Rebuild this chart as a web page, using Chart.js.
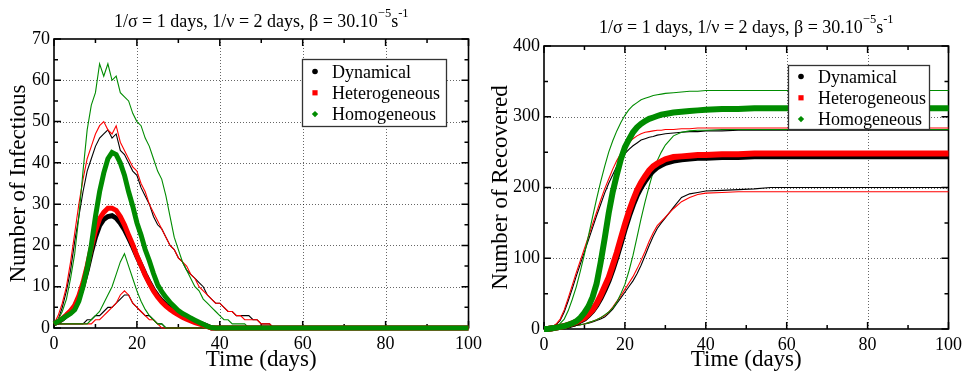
<!DOCTYPE html>
<html>
<head>
<meta charset="utf-8">
<script src="https://cdn.jsdelivr.net/npm/chart.js@4.4.1/dist/chart.umd.min.js"></script>
<style>
  html, body { margin: 0; padding: 0; background: #fff; }
  #wrap { position: relative; width: 967px; height: 376px; overflow: hidden; }
  canvas { position: absolute; top: 0; }
  #cInf { left: 0; }
  #cRec { left: 487px; }
</style>
</head>
<body>
<div id="wrap">
  <canvas id="cInf" width="487" height="376"></canvas>
  <canvas id="cRec" width="480" height="376"></canvas>
</div>
<script>
// ---- models ----
const modelNames = ['Dynamical', 'Heterogeneous', 'Homogeneous'];
const modelColors = ['#000000', '#ff0000', '#008c00'];
const modelMarkers = ['circle', 'rect', 'rectRot'];

// ---- infectious (left panel) ----
const dayI = [0,1,2,3,4,5,6,7,8,9,10,11,12,13,14,15,16,17,18,19,20,21,22,23,24,25,26,27,28,29,
              30,31,32,33,34,35,36,37,38,39,40,41,42,43,44,45,46,47,48,49,50,51,52,53,54,100];

const dynMeanI = [1,1.5,2.1,3,4,5.2,7.3,10.3,14,18.3,
                  22,24.8,26.3,27,27.2,26.6,25.4,23.8,21.8,19.7,
                  17.4,15.2,13,11,9.2,7.8,6.6,5.6,4.8,4.1,
                  3.5,2.9,2.4,2,1.6,1.2,0.9,0.5,0,0,
                  0,0,0,0,0,0,0,0,0,0,
                  0,0,0,0,0, 0];
const hetMeanI = [1,1.6,2.3,3.2,4.2,5.5,7.8,11,15,19.5,
                  23.5,26.5,28,29,29,28.5,27,25,22.5,20.2,
                  17.5,15.2,12.8,10.8,9,7.5,6.3,5.3,4.5,3.8,
                  3.2,2.6,2.1,1.7,1.3,1,0.7,0.3,0,0,
                  0,0,0,0,0,0,0,0,0,0,
                  0,0,0,0,0, 0];
const homMeanI = [1,1.6,2.2,2.9,3.5,4.4,6.5,10,14.5,20,
                  27,33,37.5,41,42.5,42,40,37,33,29.5,
                  25.5,22.5,19,16.3,13.2,10.5,8.8,7.4,6.2,5.2,
                  4.2,3.5,3,2.4,1.9,1.4,0.9,0.4,0.1,0,
                  0,0,0,0,0,0,0,0,0,0,
                  0,0,0,0,0, 0];
const dynHighI = [1,2,5,9,14,21,27,33,38,41,
                  44,46,47,48,46,47,43,42,40,38,
                  37,34,32,30,27,25,24,22,20,19,
                  17,16,14,13,12,11,10,8,7,6,
                  6,5,4,4,3,3,3,3,2,2,
                  1,1,1,0,0, 0];
const hetHighI = [1,3,6,10,16,23,30,36,41,44,
                  47,49,50,48,47,49,45,43,41,39,
                  38,35,33,30,28,26,24,22,20,19,
                  17,16,15,13,12,10,9,8,7,6,
                  6,5,4,4,3,3,2,2,2,2,
                  1,1,1,0,0, 0];
const homHighI = [1,2,4,7,12,18,27,38,48,54,
                  57,64,61,64,60,61,57,56,55,52,
                  50,49,46,44,41,38,36,32,27,22,
                  19,16,14,12,10,9,7,6,5,4,
                  3,2,2,1,1,1,1,0,0,0,
                  0,0,0,0,0, 0];
const dynLowI  = [1,1,1,1,1,1,1,1,2,2,
                  3,3,4,5,5,6,7,8,8,6,
                  5,4,3,3,2,1,1,0,0,0,
                  0,0,0,0,0,0,0,0,0,0,
                  0,0,0,0,0,0,0,0,0,0,
                  0,0,0,0,0, 0];
const hetLowI  = [1,1,1,1,1,1,1,1,1,1,
                  2,2,3,4,5,6,8,9,8,6,
                  5,4,3,2,2,1,0,0,0,0,
                  0,0,0,0,0,0,0,0,0,0,
                  0,0,0,0,0,0,0,0,0,0,
                  0,0,0,0,0, 0];
const homLowI  = [1,1,1,1,1,1,1,1,1,2,
                  3,4,6,8,10,13,16,18,15,12,
                  9,6.5,4.5,3,2,1,1,0,0,0,
                  0,0,0,0,0,0,0,0,0,0,
                  0,0,0,0,0,0,0,0,0,0,
                  0,0,0,0,0, 0];

// ---- recovered (right panel) ----
const dayR = [0,1,2,3,4,5,6,7,8,9,10,11,12,13,14,15,16,17,18,19,20,21,22,23,24,25,26,27,28,29,30,
              32,34,36,38,40,44,48,52,56,60,100];

const dynMeanR = [0,0,1,2,3,4,5,7,9,12, 15,20,26,34,44,56,69,85,103,122,
                  142,160,176,190,201,210,218,224,229,232, 235,
                  238,240,241,242,242,243,243,244,244,244, 244];
const hetMeanR = [0,0,1,2,3,4,6,8,10,13, 16,21,27,36,47,60,73,90,108,128,
                  148,166,182,196,207,216,224,230,234,237, 240,
                  243,244,245,246,246,247,247,248,248,248, 248];
const homMeanR = [0,0,1,2,3,4,6,8,11,16, 23,32,45,64,94,128,164,194,218,240,
                  257,268,278,285,290,294,297,299,301,303, 304,
                  306,307,308,309,310,311,311,312,312,312, 312];
const dynHighR = [0,1,3,6,12,24,40,57,75,92, 109,126,143,160,176,192,206,218,230,240,
                  248,254,259,263,267,269,271,272,274,275, 276,
                  277,278,279,279,280,280,281,281,281,281, 281];
const hetHighR = [0,1,3,7,14,27,44,62,80,97, 114,131,148,165,182,198,212,226,238,248,
                  256,263,269,273,276,278,279,280,281,281, 282,
                  282,283,283,284,284,284,284,284,284,284, 284];
const homHighR = [0,1,2,3,8,14,26,42,60,82, 106,132,158,184,208,230,250,266,280,292,
                  302,310,316,320,324,326,328,330,331,332, 333,
                  334,335,336,336,337,337,337,337,337,337, 337];
const dynLowR  = [0,0,1,1,2,2,3,4,5,6, 7,8,10,12,14,17,22,28,36,44,
                  52,60,68,78,90,104,118,131,142,150, 157,
                  172,186,191,193,195,196,197,198,200,200, 200];
const hetLowR  = [0,0,1,1,2,2,3,4,5,6, 7,9,11,13,16,19,24,31,39,47,
                  56,65,74,85,97,110,124,136,146,152, 158,
                  170,180,186,190,192,193,194,194,194,194, 194];
const homLowR  = [0,0,1,1,2,2,3,4,5,6, 7,9,11,13,16,20,24,30,38,50,
                  63,82,104,130,156,180,202,222,238,250, 260,
                  273,278,280,281,281,282,282,282,282,282, 282];

// ---- axis ticks and titles ----
const timeTicks = [0, 20, 40, 60, 80, 100];
const infTicks = [0, 10, 20, 30, 40, 50, 60, 70];
const recTicks = [0, 100, 200, 300, 400];
const xTitle = 'Time (days)';
const yTitleInf = 'Number of Infectious';
const yTitleRec = 'Number of Recovered';
const titleParts = [
  { text: '1/\u03c3 = 1 days, 1/\u03bd = 2 days, \u03b2 = 30.10' },
  { text: '\u22125', sup: true },
  { text: 's' },
  { text: '-1', sup: true }
];

const SERIF = '"Liberation Serif", "Times New Roman", serif';

function pts(days, vals) { return days.map((d, i) => ({ x: d, y: vals[i] })); }

function buildSets(days, means, highs, lows, meanWidth) {
  const sets = [];
  // means on top (green, red, black), then envelope lines
  [2, 1, 0].forEach((m, k) => sets.push({
    label: modelNames[m], data: pts(days, means[m]), borderColor: modelColors[m],
    backgroundColor: modelColors[m], borderWidth: meanWidth, pointRadius: 0,
    tension: 0, clip: false, order: k
  }));
  [2, 1, 0].forEach((m, k) => {
    [highs[m], lows[m]].forEach((v, j) => sets.push({
      label: modelNames[m] + (j ? ' low' : ' high'), data: pts(days, v),
      borderColor: modelColors[m], borderWidth: 1.1, pointRadius: 0,
      tension: 0, clip: false, order: 3 + k
    }));
  });
  return sets;
}

// grid, frame and inward ticks on all four sides
const frameTicks = {
  id: 'frameTicks',
  beforeDatasetsDraw(chart) {
    const { ctx, chartArea: a, scales: { x, y } } = chart;
    const xs = x.ticks.map(t => t.value), ys = y.ticks.map(t => t.value);
    ctx.save();
    ctx.strokeStyle = 'rgba(0,0,0,0.6)';
    ctx.lineWidth = 1;
    ctx.setLineDash([1, 2]);
    ctx.beginPath();
    xs.forEach(v => { if (v > x.min && v < x.max) { const p = Math.round(x.getPixelForValue(v)) + 0.5; ctx.moveTo(p, a.top); ctx.lineTo(p, a.bottom); } });
    ys.forEach(v => { if (v > y.min && v < y.max) { const p = Math.round(y.getPixelForValue(v)) + 0.5; ctx.moveTo(a.left, p); ctx.lineTo(a.right, p); } });
    ctx.stroke();
    ctx.setLineDash([]);
    ctx.strokeStyle = '#000';
    ctx.lineWidth = 1.5;
    ctx.beginPath();
    const mk = (vals, scale, horiz) => {
      const all = [];
      vals.forEach((v, i) => {
        all.push([v, 7]);
        if (i < vals.length - 1) all.push([(v + vals[i + 1]) / 2, 4]);
      });
      all.forEach(([v, len]) => {
        const p = scale.getPixelForValue(v);
        if (horiz) { ctx.moveTo(p, a.bottom); ctx.lineTo(p, a.bottom - len); ctx.moveTo(p, a.top); ctx.lineTo(p, a.top + len); }
        else { ctx.moveTo(a.left, p); ctx.lineTo(a.left + len, p); ctx.moveTo(a.right, p); ctx.lineTo(a.right - len, p); }
      });
    };
    mk(xs, x, true);
    mk(ys, y, false);
    ctx.stroke();
    ctx.lineWidth = 1.6;
    ctx.strokeRect(a.left, a.top, a.right - a.left, a.bottom - a.top);
    ctx.restore();
  }
};

// title with superscript exponents
const supTitle = {
  id: 'supTitle',
  afterDraw(chart, args, o) {
    const { ctx, chartArea: a } = chart;
    ctx.save();
    ctx.fillStyle = '#000';
    ctx.textAlign = 'left';
    ctx.textBaseline = 'alphabetic';
    let total = 0;
    const widths = titleParts.map(p => {
      ctx.font = (p.sup ? o.supSize : o.size) + 'px ' + SERIF;
      const w = ctx.measureText(p.text).width; total += w; return w;
    });
    let px = (a.left + a.right) / 2 - total / 2;
    titleParts.forEach((p, i) => {
      ctx.font = (p.sup ? o.supSize : o.size) + 'px ' + SERIF;
      ctx.fillText(p.text, px, p.sup ? o.baseline - o.rise : o.baseline);
      px += widths[i];
    });
    ctx.restore();
  }
};

// boxed legend inside the plot
const boxLegend = {
  id: 'boxLegend',
  afterDraw(chart, args, o) {
    const { ctx } = chart;
    ctx.save();
    ctx.fillStyle = '#fff';
    ctx.fillRect(o.left, o.top, o.right - o.left, o.bottom - o.top);
    ctx.strokeStyle = '#333';
    ctx.lineWidth = 1.3;
    ctx.strokeRect(o.left + 0.5, o.top + 0.5, o.right - o.left, o.bottom - o.top);
    modelNames.forEach((name, i) => {
      const cy = o.top + o.row0 + i * o.rowGap;
      const cx = o.left + 13;
      ctx.fillStyle = modelColors[i];
      ctx.beginPath();
      if (modelMarkers[i] === 'circle') ctx.arc(cx, cy, 2.8, 0, Math.PI * 2);
      else if (modelMarkers[i] === 'rect') ctx.rect(cx - 2.6, cy - 2.6, 5.2, 5.2);
      else { ctx.moveTo(cx, cy - 3.2); ctx.lineTo(cx + 3.2, cy); ctx.lineTo(cx, cy + 3.2); ctx.lineTo(cx - 3.2, cy); ctx.closePath(); }
      ctx.fill();
      ctx.fillStyle = '#000';
      ctx.font = '18px ' + SERIF;
      ctx.textBaseline = 'alphabetic';
      ctx.fillText(name, o.left + 30, cy + 6);
    });
    ctx.restore();
  }
};

function makeChart(id, cfg) {
  return new Chart(document.getElementById(id), {
    type: 'line',
    data: { datasets: cfg.sets },
    options: {
      responsive: false,
      animation: false,
      devicePixelRatio: 1,
      events: [],
      layout: { padding: { top: cfg.top, right: cfg.right, left: 0, bottom: 0 } },
      plugins: {
        legend: { display: false },
        tooltip: { enabled: false },
        supTitle: { size: 18, supSize: 12.5, baseline: cfg.titleBase, rise: 10 },
        boxLegend: cfg.legend
      },
      scales: {
        x: {
          type: 'linear', min: 0, max: 100,
          afterBuildTicks: s => { s.ticks = timeTicks.map(v => ({ value: v })); },
          afterFit: s => { s.height = cfg.xHeight; },
          grid: { display: false, drawTicks: false },
          border: { display: false },
          ticks: { color: '#000', font: { family: SERIF, size: 18 }, padding: 5, maxRotation: 0, autoSkip: false },
          title: { display: true, text: xTitle, color: '#000', font: { family: SERIF, size: 23 }, padding: { top: 0, bottom: 2 } }
        },
        y: {
          type: 'linear', min: cfg.yTicks[0], max: cfg.yTicks[cfg.yTicks.length - 1],
          afterBuildTicks: s => { s.ticks = cfg.yTicks.map(v => ({ value: v })); },
          afterFit: s => { s.width = cfg.yWidth; },
          grid: { display: false, drawTicks: false },
          border: { display: false },
          ticks: { color: '#000', font: { family: SERIF, size: 18 }, padding: 4, autoSkip: false },
          title: { display: true, text: cfg.yTitle, color: '#000', font: { family: SERIF, size: 23 }, padding: { top: cfg.yTitlePad, bottom: 0 } }
        }
      }
    },
    plugins: [frameTicks, supTitle, boxLegend]
  });
}

makeChart('cInf', {
  sets: buildSets(dayI, [dynMeanI, hetMeanI, homMeanI], [dynHighI, hetHighI, homHighI], [dynLowI, hetLowI, homLowI], 5),
  top: 39, right: 18, xHeight: 48, yWidth: 54, yTicks: infTicks, yTitle: yTitleInf, yTitlePad: 5,
  titleBase: 27,
  legend: { left: 302, top: 59, right: 446, bottom: 126, row0: 12.5, rowGap: 21.3 }
});

makeChart('cRec', {
  sets: buildSets(dayR, [dynMeanR, hetMeanR, homMeanR], [dynHighR, hetHighR, homHighR], [dynLowR, hetLowR, homLowR], 6),
  top: 46, right: 17, xHeight: 47, yWidth: 57, yTicks: recTicks, yTitle: yTitleRec, yTitlePad: 0,
  titleBase: 33,
  legend: { left: 301, top: 65, right: 442, bottom: 129, row0: 11.5, rowGap: 21.3 }
});
</script>
</body>
</html>
